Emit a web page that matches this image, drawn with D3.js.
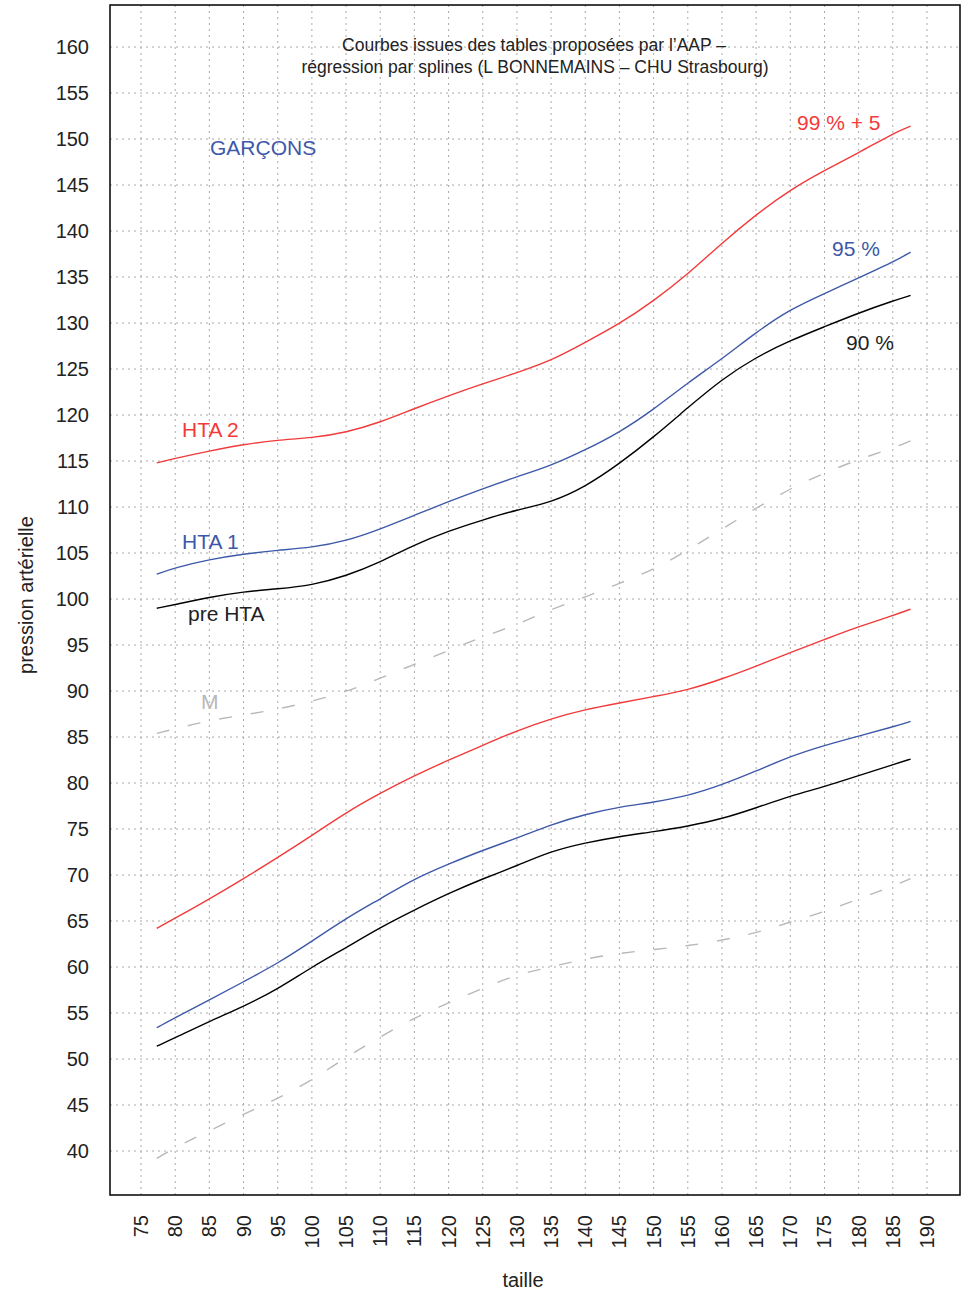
<!DOCTYPE html>
<html>
<head>
<meta charset="utf-8">
<script src="https://cdn.jsdelivr.net/npm/d3@7"></script>
<style>
  body { margin: 0; background: #fff; }
  text { font-family: 'Liberation Sans', Arial, Helvetica, sans-serif; }
</style>
</head>
<body>
<div id="chart"></div>
<script>
// taille (cm) aux points lus
const taille = [77.3, 80, 85, 90, 95, 100, 105, 110, 115, 120, 125, 130, 135, 140, 145, 150, 155, 160, 165, 170, 175, 180, 185, 187.6]

// systolique
const sys99 = [114.8, 115.3, 116.1, 116.8, 117.3, 117.5, 118.1, 119.2, 120.7, 122.1, 123.4, 124.6, 125.9, 127.9, 129.9, 132.4, 135.3, 138.7, 141.8, 144.5, 146.6, 148.5, 150.6, 151.4]
const sys95 = [102.7, 103.4, 104.3, 104.9, 105.3, 105.6, 106.3, 107.6, 109.1, 110.6, 112.0, 113.3, 114.5, 116.2, 118.1, 120.6, 123.5, 126.1, 129.0, 131.5, 133.2, 134.9, 136.6, 137.7]
const sys90 = [99.0, 99.4, 100.2, 100.8, 101.1, 101.5, 102.5, 104.0, 105.9, 107.4, 108.6, 109.7, 110.5, 112.2, 114.7, 117.6, 120.8, 123.9, 126.3, 128.1, 129.6, 131.1, 132.4, 133.0]
const sysM = [85.4, 85.9, 86.8, 87.4, 88.0, 88.9, 89.9, 91.4, 92.9, 94.4, 95.9, 97.2, 98.9, 100.2, 101.7, 103.2, 105.3, 107.6, 109.9, 112.0, 113.7, 115.2, 116.4, 117.2]

// diastolique
const dia99 = [64.2, 65.3, 67.4, 69.6, 71.9, 74.3, 76.8, 78.9, 80.8, 82.5, 84.1, 85.7, 87.0, 88.0, 88.7, 89.4, 90.1, 91.3, 92.7, 94.2, 95.6, 97.0, 98.2, 98.9]
const dia95 = [53.4, 54.5, 56.4, 58.4, 60.4, 62.8, 65.3, 67.4, 69.6, 71.2, 72.7, 74.0, 75.5, 76.6, 77.4, 77.9, 78.6, 79.8, 81.3, 82.9, 84.1, 85.1, 86.1, 86.7]
const dia90 = [51.4, 52.3, 54.1, 55.7, 57.6, 60.0, 62.1, 64.3, 66.2, 68.0, 69.6, 71.0, 72.6, 73.5, 74.2, 74.7, 75.3, 76.1, 77.3, 78.6, 79.6, 80.8, 82.0, 82.6]
const diaM = [39.2, 40.4, 42.2, 44.0, 45.7, 47.7, 50.2, 52.4, 54.5, 56.1, 57.7, 59.2, 60.0, 60.9, 61.5, 61.9, 62.3, 62.9, 63.7, 64.9, 66.0, 67.4, 68.8, 69.6]

const xTicks = d3.range(75, 191, 5)
const yTicks = d3.range(40, 161, 5)

const red = '#f23a3a', blue = '#3d58a8', grey = '#b8b8b8'

;(function() {
  let width = 970,
  height = 1290

  let svg = d3.select('#chart')
    .append('svg')
    .attr('width', width)
    .attr('height', height)

  let x = d3.scaleLinear().domain([70.46, 194.83]).range([110, 960])
  let y = d3.scaleLinear().domain([35.22, 164.57]).range([1195, 5])

  // grille pointillée
  svg.append('g')
    .selectAll('line')
    .data(xTicks)
    .enter()
    .append('line')
    .attr('x1', d => x(d)).attr('x2', d => x(d))
    .attr('y1', 5).attr('y2', 1195)
    .attr('stroke', '#aaa')
    .attr('stroke-dasharray', '2,4')

  svg.append('g')
    .selectAll('line')
    .data(yTicks)
    .enter()
    .append('line')
    .attr('y1', d => y(d)).attr('y2', d => y(d))
    .attr('x1', 110).attr('x2', 960)
    .attr('stroke', '#aaa')
    .attr('stroke-dasharray', '2,4')

  // courbes (lissées comme des splines)
  let line = d3.line()
    .x((d, i) => x(taille[i]))
    .y(d => y(d))
    .curve(d3.curveBasis)

  let series = [
    { v: sys99, c: red }, { v: sys95, c: blue }, { v: sys90, c: '#000' },
    { v: dia99, c: red }, { v: dia95, c: blue }, { v: dia90, c: '#000' },
    { v: sysM, c: grey, dash: '13,19' }, { v: diaM, c: grey, dash: '13,19' }
  ]

  svg.selectAll('.courbe')
    .data(series)
    .enter()
    .append('path')
    .attr('class', 'courbe')
    .attr('d', d => line(d.v))
    .attr('fill', 'none')
    .attr('stroke', d => d.c)
    .attr('stroke-width', 1.4)
    .attr('stroke-dasharray', d => d.dash || null)

  // cadre
  svg.append('rect')
    .attr('x', 110).attr('y', 5)
    .attr('width', 850).attr('height', 1190)
    .attr('fill', 'none')
    .attr('stroke', '#000')
    .attr('stroke-width', 1.5)

  // graduations
  svg.append('g')
    .selectAll('text')
    .data(yTicks)
    .enter()
    .append('text')
    .attr('x', 89)
    .attr('y', d => y(d))
    .attr('dy', '0.35em')
    .attr('text-anchor', 'end')
    .attr('font-size', 20)
    .attr('fill', '#222')
    .text(d => d)

  svg.append('g')
    .selectAll('text')
    .data(xTicks)
    .enter()
    .append('text')
    .attr('transform', d => 'translate(' + x(d) + ',1215) rotate(-90)')
    .attr('dy', '0.35em')
    .attr('text-anchor', 'end')
    .attr('font-size', 20)
    .attr('fill', '#222')
    .text(d => d)

  svg.append('text')
    .attr('x', 523).attr('y', 1287)
    .attr('text-anchor', 'middle')
    .attr('font-size', 20)
    .attr('fill', '#222')
    .text('taille')

  svg.append('text')
    .attr('transform', 'translate(33,595) rotate(-90)')
    .attr('text-anchor', 'middle')
    .attr('font-size', 20)
    .attr('fill', '#222')
    .text('pression artérielle')

  // titre
  svg.append('text')
    .attr('x', 534).attr('y', 51)
    .attr('text-anchor', 'middle')
    .attr('font-size', 17.5)
    .attr('fill', '#222')
    .text('Courbes issues des tables proposées par l\u2019AAP \u2013')

  svg.append('text')
    .attr('x', 535).attr('y', 73)
    .attr('text-anchor', 'middle')
    .attr('font-size', 17.5)
    .attr('fill', '#222')
    .text('régression par splines (L BONNEMAINS \u2013 CHU Strasbourg)')

  // étiquettes
  let labels = [
    { t: 'GARÇONS', x: 210, y: 155, c: blue },
    { t: '99 % + 5', x: 797, y: 130, c: red },
    { t: '95 %', x: 832, y: 256, c: blue },
    { t: '90 %', x: 846, y: 350, c: '#222' },
    { t: 'HTA 2', x: 182, y: 437, c: red },
    { t: 'HTA 1', x: 182, y: 549, c: blue },
    { t: 'pre HTA', x: 188, y: 621, c: '#222' },
    { t: 'M', x: 201, y: 709, c: grey }
  ]

  svg.append('g')
    .selectAll('text')
    .data(labels)
    .enter()
    .append('text')
    .attr('x', d => d.x)
    .attr('y', d => d.y)
    .attr('font-size', 21)
    .attr('fill', d => d.c)
    .text(d => d.t)
})()
</script>
</body>
</html>
